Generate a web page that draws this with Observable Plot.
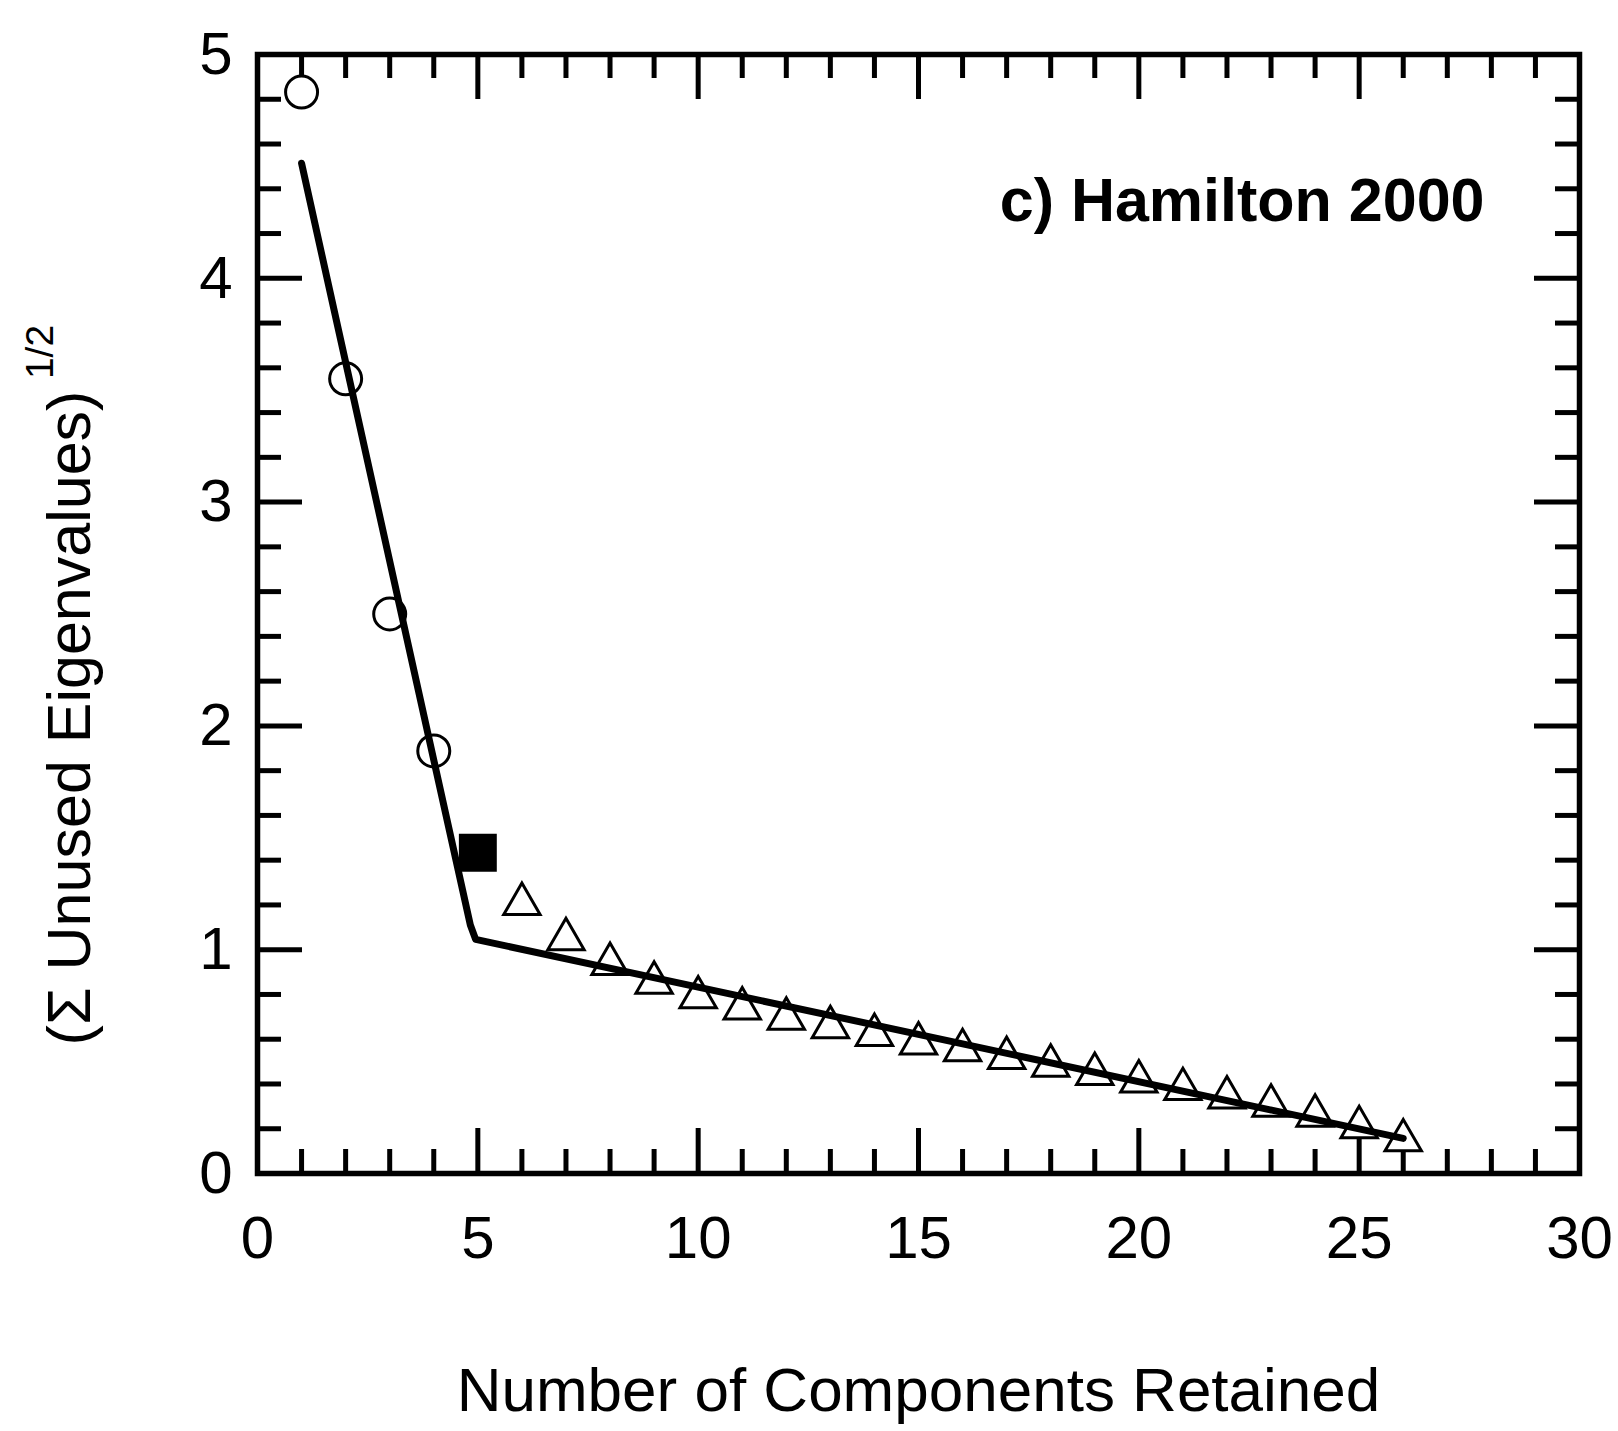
<!DOCTYPE html>
<html>
<head>
<meta charset="utf-8">
<script src="https://cdn.jsdelivr.net/npm/d3@7"></script>
<script src="https://cdn.jsdelivr.net/npm/@observablehq/plot@0.6"></script>
<style>
  html, body { margin: 0; padding: 0; background: #fff; overflow: hidden; }
  #chart { width: 1618px; height: 1431px; }
</style>
</head>
<body>
<div id="chart"></div>
<script>
// ---- data ----
const circleX = [1, 2, 3, 4];
const circleY = [4.832, 3.551, 2.500, 1.888];

const squareX = [5];
const squareY = [1.433];

const triangleX = [6, 7, 8, 9, 10, 11, 12, 13, 14, 15, 16, 17, 18, 19, 20, 21, 22, 23, 24, 25, 26];
const triangleY = [1.204, 1.047, 0.936, 0.852, 0.787, 0.737, 0.691, 0.654, 0.619, 0.581, 0.551,
                   0.516, 0.482, 0.445, 0.411, 0.377, 0.340, 0.303, 0.258, 0.207, 0.148];

const fitX = [1, 4.83, 4.95, 26];
const fitY = [4.514, 1.11, 1.046, 0.157];

const xTicks = [0, 5, 10, 15, 20, 25, 30];
const yTicks = [0, 1, 2, 3, 4, 5];
const xMinorTicks = [1, 2, 3, 4, 6, 7, 8, 9, 11, 12, 13, 14, 16, 17, 18, 19, 21, 22, 23, 24, 26, 27, 28, 29];
const yMinorTicks = [0.2, 0.4, 0.6, 0.8, 1.2, 1.4, 1.6, 1.8, 2.2, 2.4, 2.6, 2.8, 3.2, 3.4, 3.6, 3.8, 4.2, 4.4, 4.6, 4.8];

const panelTitle = "c) Hamilton 2000";
const xTitle = "Number of Components Retained";
const yTitle = "(\u03A3 Unused Eigenvalues)";
const yTitleSup = "1/2";

// ---- tables built from arrays ----
const circles = circleX.map((x, i) => ({x, y: circleY[i]}));
const squares = squareX.map((x, i) => ({x, y: squareY[i]}));
const triangles = triangleX.map((x, i) => ({x, y: triangleY[i]}));
const fit = fitX.map((x, i) => ({x, y: fitY[i]}));

// ---- layout ----
const W = 1618, H = 1431;
const mL = 257, mR = 39, mT = 54, mB = 258;
const innerW = W - mL - mR, innerH = H - mT - mB;
const major = 45, minor = 24;
const tickW = 5;
const FONT = "'Liberation Sans', Arial, Helvetica, sans-serif";

const svg = Plot.plot({
  width: W,
  height: H,
  marginLeft: mL,
  marginRight: mR,
  marginTop: mT,
  marginBottom: mB,
  x: {domain: [0, 30], axis: null},
  y: {domain: [0, 5], axis: null},
  style: {fontFamily: FONT, background: "white", color: "black"},
  marks: [
    // ticks pointing inward on all four sides
    Plot.tickX(xTicks, {x: d => d, insetTop: innerH - major, stroke: "black", strokeWidth: tickW}),
    Plot.tickX(xTicks, {x: d => d, insetBottom: innerH - major, stroke: "black", strokeWidth: tickW}),
    Plot.tickX(xMinorTicks, {x: d => d, insetTop: innerH - minor, stroke: "black", strokeWidth: tickW}),
    Plot.tickX(xMinorTicks, {x: d => d, insetBottom: innerH - minor, stroke: "black", strokeWidth: tickW}),
    Plot.tickY(yTicks, {y: d => d, insetRight: innerW - major, stroke: "black", strokeWidth: tickW}),
    Plot.tickY(yTicks, {y: d => d, insetLeft: innerW - major, stroke: "black", strokeWidth: tickW}),
    Plot.tickY(yMinorTicks, {y: d => d, insetRight: innerW - minor, stroke: "black", strokeWidth: tickW}),
    Plot.tickY(yMinorTicks, {y: d => d, insetLeft: innerW - minor, stroke: "black", strokeWidth: tickW}),
    Plot.frame({stroke: "black", strokeWidth: 5.5}),

    // tick labels
    Plot.text(xTicks, {x: d => d, text: d => String(d), frameAnchor: "bottom", lineAnchor: "middle", dy: 65, fontSize: 60}),
    Plot.text(yTicks, {y: d => d, text: d => String(d), frameAnchor: "left", textAnchor: "end", lineAnchor: "middle", dx: -25, fontSize: 60}),

    // markers
    Plot.dot(circles, {x: "x", y: "y", symbol: "circle", r: 16, fill: "white", stroke: "black", strokeWidth: 3}),
    Plot.dot(triangles, {x: "x", y: "y", symbol: "triangle", r: 13.5, fill: "white", stroke: "black", strokeWidth: 3}),
    Plot.dot(squares, {x: "x", y: "y", symbol: "square", r: 21.4, fill: "black", stroke: "none"}),

    // fitted line
    Plot.line(fit, {x: "x", y: "y", stroke: "black", strokeWidth: 7, strokeLinejoin: "round"}),

    // panel title
    Plot.text([panelTitle], {text: d => d, frameAnchor: "top-right", textAnchor: "end", lineAnchor: "middle", dx: -95, dy: 147, fontSize: 61, fontWeight: "bold"}),

    // x title
    Plot.text([xTitle], {text: d => d, frameAnchor: "bottom", lineAnchor: "middle", dy: 218, fontSize: 62})
  ]
});

// y title with superscript (rotated)
const s = d3.select(svg);
s.append("text")
  .attr("transform", "translate(90,718) rotate(-90)")
  .attr("text-anchor", "middle")
  .attr("font-family", FONT)
  .attr("font-size", 61)
  .attr("fill", "black")
  .text(yTitle);
s.append("text")
  .attr("transform", "translate(53,352) rotate(-90)")
  .attr("text-anchor", "middle")
  .attr("font-family", FONT)
  .attr("font-size", 39)
  .attr("fill", "black")
  .text(yTitleSup);

document.getElementById("chart").appendChild(svg);
</script>
</body>
</html>
